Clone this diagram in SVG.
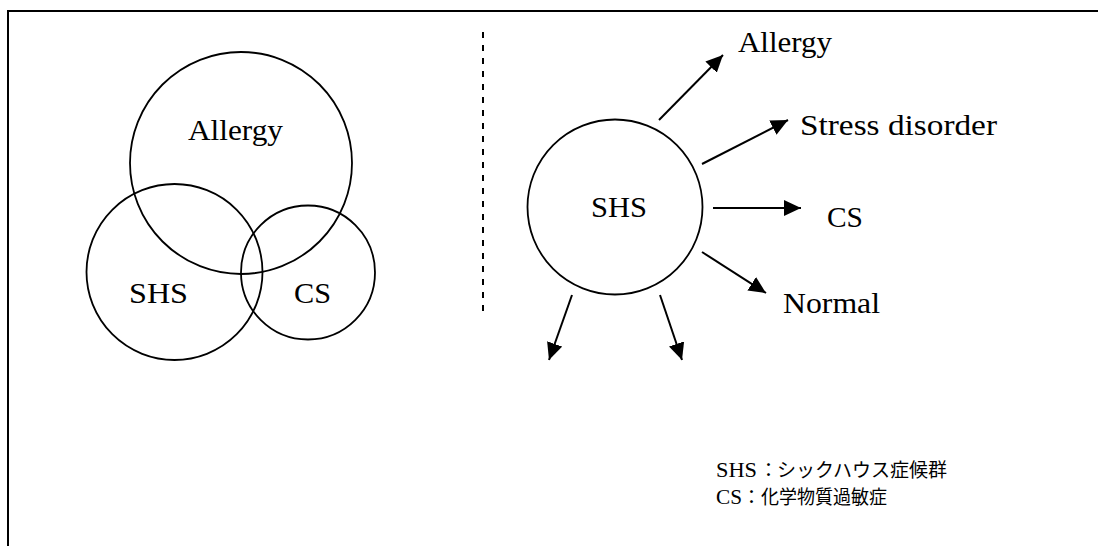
<svg xmlns="http://www.w3.org/2000/svg" width="1099" height="546" viewBox="0 0 1099 546">
<style>
.c{fill:none;stroke:#000;stroke-width:1.8}
.t{font-family:"Liberation Serif","Times New Roman",serif;font-size:29px;fill:#000}
.j{font-family:"Liberation Serif","Noto Sans CJK JP",serif;font-size:19px;fill:#000}
.a{stroke:#000;stroke-width:2;fill:none;marker-end:url(#ah)}
</style>
<defs>
<marker id="ah" markerUnits="userSpaceOnUse" markerWidth="18" markerHeight="16" viewBox="0 0 18 16" refX="17" refY="8" orient="auto">
<path d="M0,0 L17,8 L0,16 Z" fill="#000"/>
</marker>
</defs>
<rect width="1099" height="546" fill="#fff"/>
<g id="frame">
<line x1="8" y1="11" x2="1098" y2="11" stroke="#000" stroke-width="2"/>
<line x1="8" y1="10" x2="8" y2="546" stroke="#000" stroke-width="2"/>
<line x1="483" y1="32" x2="483" y2="318" stroke="#000" stroke-width="2" stroke-dasharray="6 7"/>
</g>
<g id="venn-allergy">
<circle class="c" cx="241" cy="163" r="111"/>
<text class="t" x="188" y="140" textLength="95" lengthAdjust="spacingAndGlyphs">Allergy</text>
</g>
<g id="venn-shs">
<circle class="c" cx="174.5" cy="272" r="88"/>
<text class="t" x="129" y="303" textLength="59" lengthAdjust="spacingAndGlyphs">SHS</text>
</g>
<g id="venn-cs">
<circle class="c" cx="308" cy="272.5" r="67"/>
<text class="t" x="294" y="303" textLength="37" lengthAdjust="spacingAndGlyphs">CS</text>
</g>
<g id="shs">
<circle class="c" cx="615" cy="207" r="87.5"/>
<text class="t" x="591" y="217" textLength="56" lengthAdjust="spacingAndGlyphs">SHS</text>
</g>
<g id="allergy">
<text class="t" x="738" y="52" textLength="94" lengthAdjust="spacingAndGlyphs">Allergy</text>
</g>
<g id="stress">
<text class="t" x="800" y="135" textLength="197" lengthAdjust="spacingAndGlyphs">Stress disorder</text>
</g>
<g id="cs">
<text class="t" x="827" y="227" textLength="36" lengthAdjust="spacingAndGlyphs">CS</text>
</g>
<g id="normal">
<text class="t" x="783" y="313" textLength="97" lengthAdjust="spacingAndGlyphs">Normal</text>
</g>
<g id="connectors">
<line class="a" x1="659" y1="120" x2="723" y2="55"/>
<line class="a" x1="702" y1="164" x2="788" y2="120"/>
<line class="a" x1="713" y1="208" x2="801" y2="208"/>
<line class="a" x1="702" y1="252" x2="766" y2="293"/>
<line class="a" x1="572" y1="295" x2="549" y2="360"/>
<line class="a" x1="660" y1="295" x2="682" y2="360"/>
</g>
<g id="legend">
<text class="j" y="477"><tspan x="716" font-size="21" textLength="41" lengthAdjust="spacingAndGlyphs">SHS</tspan><tspan x="759">：</tspan><tspan x="777" textLength="170" lengthAdjust="spacingAndGlyphs">シックハウス症候群</tspan></text>
<text class="j" y="504"><tspan x="716" font-size="21" textLength="26" lengthAdjust="spacingAndGlyphs">CS</tspan><tspan x="742">：</tspan><tspan x="761" textLength="126" lengthAdjust="spacingAndGlyphs">化学物質過敏症</tspan></text>
</g>
</svg>
